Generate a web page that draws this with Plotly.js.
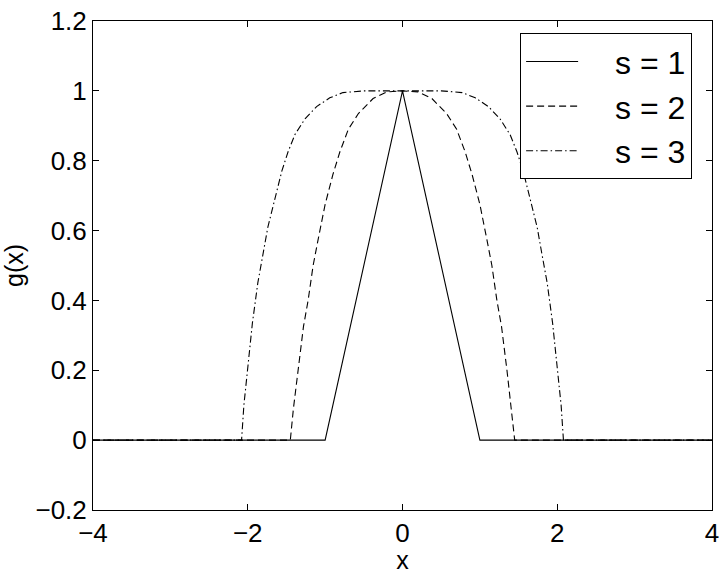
<!DOCTYPE html>
<html>
<head>
<meta charset="utf-8">
<script src="https://cdn.plot.ly/plotly-3.0.1.min.js"></script>
<style>html,body{margin:0;padding:0;background:#fff;}#chart{width:725px;height:574px;}</style>
</head>
<body>
<div id="chart"></div>
<script>
// s = 1 (solid)
const x_s1 = [-4, -1, 0, 1, 4];
const y_s1 = [0, 0, 1, 0, 0];
// s = 2 (dashed)
const x_s2 = [-4, -1.45, -1.41, -1.35, -1.28, -1.22, -1.155, -1.09, -1.0, -0.90, -0.81, -0.70, -0.57, -0.38, -0.2, 0,
              0.2, 0.38, 0.57, 0.70, 0.81, 0.90, 1.0, 1.09, 1.155, 1.22, 1.28, 1.35, 1.41, 1.45, 4];
const y_s2 = [0, 0, 0.09, 0.20, 0.325, 0.40, 0.50, 0.575, 0.675, 0.76, 0.825, 0.89, 0.935, 0.978, 0.997, 1,
              0.997, 0.978, 0.935, 0.89, 0.825, 0.76, 0.675, 0.575, 0.50, 0.40, 0.325, 0.20, 0.09, 0, 0];
// s = 3 (dash-dot)
const x_s3 = [-4, -2.08, -2.05, -1.99, -1.94, -1.87, -1.80, -1.74, -1.65, -1.56, -1.48, -1.39, -1.26, -1.11, -0.94, -0.77, -0.5, 0,
              0.5, 0.77, 0.94, 1.11, 1.26, 1.39, 1.48, 1.56, 1.65, 1.74, 1.80, 1.87, 1.94, 1.99, 2.05, 2.08, 4];
const y_s3 = [0, 0, 0.10, 0.23, 0.335, 0.45, 0.535, 0.61, 0.69, 0.77, 0.825, 0.875, 0.92, 0.955, 0.98, 0.995, 1.0, 1,
              1.0, 0.995, 0.98, 0.955, 0.92, 0.875, 0.825, 0.77, 0.69, 0.61, 0.535, 0.45, 0.335, 0.23, 0.10, 0, 0];
const seriesNames = ['s = 1', 's = 2', 's = 3'];
const xTickVals = [-4, -2, 0, 2, 4];
const xTickText = ['\u22124', '\u22122', '0', '2', '4'];
const yTickVals = [-0.2, 0, 0.2, 0.4, 0.6, 0.8, 1, 1.2];
const yTickText = ['\u22120.2', '0', '0.2', '0.4', '0.6', '0.8', '1', '1.2'];

const FONT = 'Liberation Sans, Arial, Helvetica, sans-serif';
const GAP = '\u2003';
const traces = [
  {x: x_s1, y: y_s1, name: GAP + seriesNames[0], mode: 'lines', line: {color: '#000', width: 1.1, dash: 'solid'}},
  {x: x_s2, y: y_s2, name: GAP + seriesNames[1], mode: 'lines', line: {color: '#000', width: 1.1, dash: '7px,4px'}},
  {x: x_s3, y: y_s3, name: GAP + seriesNames[2], mode: 'lines', line: {color: '#000', width: 1.1, dash: '7px,3px,1.5px,3px'}}
];
const axisCommon = {
  showgrid: false, zeroline: false, showline: true, linecolor: '#000', linewidth: 1,
  mirror: 'ticks', ticks: 'inside', ticklen: 6, tickwidth: 1, tickcolor: '#000',
  tickfont: {family: FONT, size: 26, color: '#000'}
};
const layout = {
  width: 725, height: 574,
  margin: {l: 93, r: 13, t: 21, b: 64},
  paper_bgcolor: '#fff', plot_bgcolor: '#fff',
  font: {family: FONT, color: '#000'},
  xaxis: Object.assign({}, axisCommon, {
    range: [-4, 4], tickmode: 'array', tickvals: xTickVals, ticktext: xTickText,
    title: {text: 'x', font: {family: FONT, size: 25, color: '#000'}, standoff: 0}
  }),
  yaxis: Object.assign({}, axisCommon, {
    range: [-0.2, 1.2], tickmode: 'array', tickvals: yTickVals, ticktext: yTickText,
    title: {text: 'g(x)', font: {family: FONT, size: 25, color: '#000'}, standoff: 10}
  }),
  showlegend: true,
  legend: {
    x: 0.690, y: 0.975, xanchor: 'left', yanchor: 'top',
    bgcolor: '#fff', bordercolor: '#000', borderwidth: 1,
    font: {family: FONT, size: 32, color: '#000'},
    itemwidth: 52, tracegroupgap: 0
  }
};
Plotly.newPlot('chart', traces, layout, {displayModeBar: false, staticPlot: true});
</script>
</body>
</html>
